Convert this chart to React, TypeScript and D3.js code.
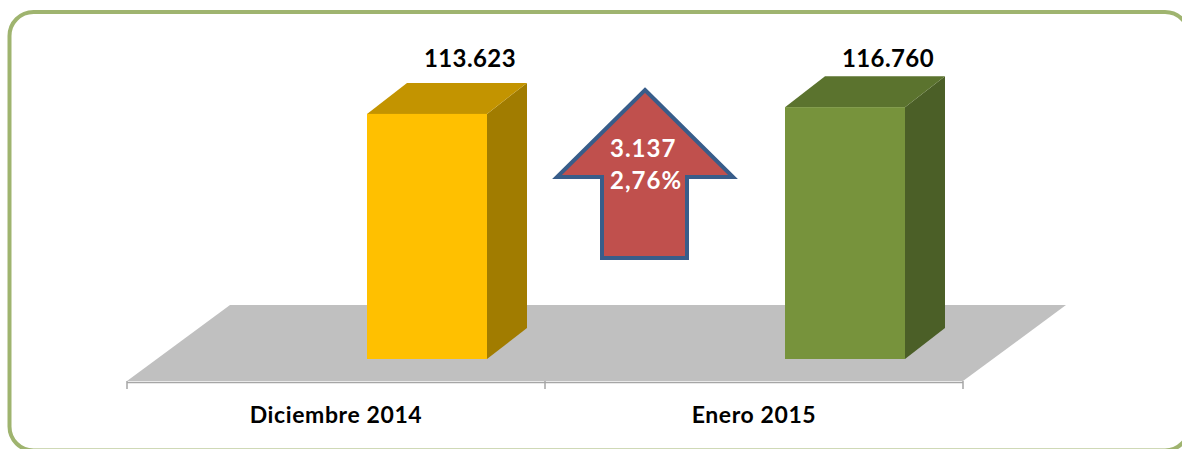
import React from 'react';
import { scaleBand, scaleLinear, format } from 'd3';

const categories = ['Diciembre 2014', 'Enero 2015'];
const values = [113623, 116760];
const frontColors = ['#FFC000', '#77933C'];
const topColors = ['#C39400', '#5B732E'];
const sideColors = ['#A17C00', '#4B5F27'];
const changeLabel = ['3.137', '2,76%'];

const W = 1182;
const H = 449;
const font = 'Lato, "Open Sans", sans-serif';

// Spanish number format: 113.623
const fmt = (v: number) => format(',')(v).replace(/,/g, '.');

const App = () => {
  const x = scaleBand<string>().domain(categories).range([127, 963]).padding(0);
  const y = scaleLinear().domain([0, 140000]).range([359, 57]);

  const floorFrontY = 381;
  const floorBackY = 305;
  const floorDx = 103;
  const barW = 120;
  const barShift = 91;
  const bdx = 40;
  const bdy = 31;
  const labelY = 67;

  // arrow geometry
  const ax = 645;
  const arrow = [
    [ax, 90],
    [ax + 88, 177],
    [ax + 42, 177],
    [ax + 42, 258],
    [ax - 43, 258],
    [ax - 43, 177],
    [ax - 88, 177],
  ];

  return (
    <svg
      width={W}
      height={H}
      style={{ position: 'absolute', left: 0, top: 0, background: '#fff' }}
    >
      <rect x={9.5} y={12} width={1179.5} height={438.5} rx={24} ry={24}
        fill="#fff" stroke="#9FB46F" strokeWidth={4} />

      {/* floor */}
      <polygon
        points={[
          [x.range()[0], floorFrontY],
          [x.range()[1], floorFrontY],
          [x.range()[1] + floorDx, floorBackY],
          [x.range()[0] + floorDx, floorBackY],
        ].map((p) => p.join(',')).join(' ')}
        fill="#C0C0C0"
      />

      {/* axis */}
      <line x1={x.range()[0]} x2={x.range()[1]} y1={382.5} y2={382.5} stroke="#A6A6A6" strokeWidth={1.5} />
      {[...categories.map((c) => x(c) as number), x.range()[1]].map((t, i) => (
        <line key={i} x1={t} x2={t} y1={381} y2={389} stroke="#A6A6A6" strokeWidth={1.5} />
      ))}
      {categories.map((c) => (
        <text key={c} x={(x(c) as number) + x.bandwidth() / 2} y={423}
          textAnchor="middle" fontFamily={font} fontWeight="bold" fontSize={23}
          letterSpacing={0.6} fill="#000">
          {c}
        </text>
      ))}

      {/* bars */}
      {categories.map((c, i) => {
        const cx = (x(c) as number) + x.bandwidth() / 2 + barShift;
        const x0 = cx - barW / 2;
        const x1 = cx + barW / 2;
        const yb = y(0);
        const yt = y(values[i]);
        const pts = (a: number[][]) => a.map((p) => p.join(',')).join(' ');
        return (
          <g key={c}>
            <polygon points={pts([[x1, yb], [x1 + bdx, yb - bdy], [x1 + bdx, yt - bdy], [x1, yt]])} fill={sideColors[i]} />
            <polygon points={pts([[x0, yt], [x1, yt], [x1 + bdx, yt - bdy], [x0 + bdx, yt - bdy]])} fill={topColors[i]} />
            <rect x={x0} y={yt} width={barW} height={yb - yt} fill={frontColors[i]} />
            <text x={cx + bdx + 3} y={labelY} textAnchor="middle" fontFamily={font}
              fontWeight="bold" fontSize={24} letterSpacing={0.4} fill="#000">
              {fmt(values[i])}
            </text>
          </g>
        );
      })}

      {/* change arrow */}
      <polygon points={arrow.map((p) => p.join(',')).join(' ')} fill="#C0504D"
        stroke="#385D8A" strokeWidth={4} strokeLinejoin="miter" />
      {changeLabel.map((t, i) => (
        <text key={t} x={610} y={157 + i * 32} fontFamily={font} fontWeight="bold"
          fontSize={24} fill="#fff" letterSpacing={1}>
          {t}
        </text>
      ))}
    </svg>
  );
};

export default App;
